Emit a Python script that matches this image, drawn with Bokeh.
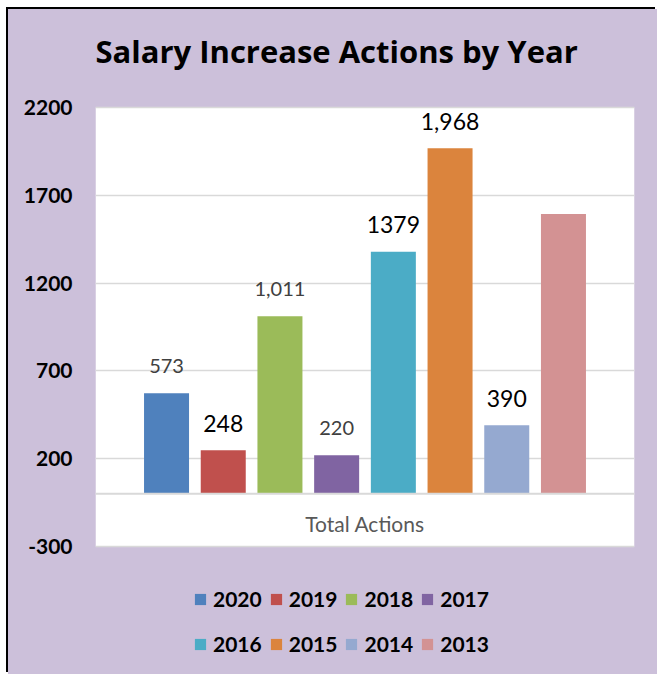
from bokeh.plotting import figure
from bokeh.models import (ColumnDataSource, FactorRange, Range1d, FixedTicker, Legend, LegendItem,
                          PrintfTickFormatter, BoxAnnotation, Span, Label)
from bokeh.transform import dodge
from bokeh.core.properties import value
from bokeh.embed import file_html
from bokeh.resources import INLINE

# ---- data ----
category = "Total Actions"
years = ["2020", "2019", "2018", "2017", "2016", "2015", "2014", "2013"]
counts = [573, 248, 1011, 220, 1379, 1968, 390, 1594]
count_labels = ["573", "248", "1,011", "220", "1379", "1,968", "390", ""]
y_ticks = [-300, 200, 700, 1200, 1700, 2200]
title_text = "Salary Increase Actions by Year"

# ---- styles / layout ----
bar_colors = ["#4F81BD", "#C0504D", "#9BBB59", "#8064A2", "#4BACC6", "#DB843D", "#95A9D0", "#D39293"]
label_colors = ["#404040", "#000000", "#404040", "#404040", "#000000", "#000000", "#000000", "#000000"]
label_sizes = ["20px", "23px", "20px", "20px", "23px", "23px", "23px", "23px"]
FONT = "Lato"
BG = "#CCC0DA"
GRID = "#D9D9D9"

W, H = 649, 665
plot_top_px, plot_bot_px = 98, 537   # pixel rows (from top of frame) of the top and bottom ticks
upx = (y_ticks[-1] - y_ticks[0]) / (plot_bot_px - plot_top_px)
y_end = y_ticks[-1] + plot_top_px * upx
y_start = y_ticks[0] - (H - plot_bot_px) * upx

p = figure(width=W, height=H,
           x_range=FactorRange(factors=[category]),
           y_range=Range1d(y_start, y_end),
           x_axis_location=None,
           output_backend="svg", toolbar_location=None,
           min_border_left=87, min_border_right=23,
           min_border_top=0, min_border_bottom=0)
p.styles = {"margin-left": "8px", "margin-top": "9px", "background-color": BG,
            "box-shadow": "-2px -2px 0 0 black"}
p.background_fill_color = None
p.border_fill_color = None
p.outline_line_color = None

# white plot area between the outer ticks
p.add_layout(BoxAnnotation(bottom=y_ticks[0], top=y_ticks[-1], fill_color="white", fill_alpha=1,
                           line_color=None, level="image"))
# category axis line at zero
p.add_layout(Span(location=0, dimension="width", line_color=GRID, line_width=2))

step = 0.1052
bar_w = 0.0835
renderers = []
for i, yr in enumerate(years):
    src = ColumnDataSource(dict(x=[category], top=[counts[i]], label=[count_labels[i]]))
    off = (i - (len(years) - 1) / 2) * step
    r = p.vbar(x=dodge("x", off, range=p.x_range), top="top", bottom=0, width=bar_w,
               fill_color=bar_colors[i], line_color=None, source=src)
    renderers.append(r)
    p.text(x=dodge("x", off, range=p.x_range), y="top", text="label", source=src,
           text_align="center", text_baseline="alphabetic", y_offset=-27,
           text_font=value(FONT), text_font_size=label_sizes[i], text_color=label_colors[i])

# category label under the zero line
cat_src = ColumnDataSource(dict(x=[category], y=[y_ticks[0] / 2], t=[category]))
p.text(x="x", y="y", text="t", source=cat_src, text_align="center", text_baseline="alphabetic",
       y_offset=3, text_font=value(FONT), text_font_size="21px", text_color="#595959")

# y axis
p.yaxis.ticker = FixedTicker(ticks=y_ticks)
p.yaxis.formatter = PrintfTickFormatter(format="%d")
p.yaxis.major_tick_line_color = None
p.yaxis.minor_tick_line_color = None
p.yaxis.major_tick_out = 0
p.yaxis.major_tick_in = 0
p.yaxis.axis_line_color = None
p.yaxis.major_label_standoff = 23
p.yaxis.major_label_text_font = FONT
p.yaxis.major_label_text_font_size = "21px"
p.yaxis.major_label_text_font_style = "bold"
p.yaxis.major_label_text_color = "black"
p.ygrid.grid_line_color = GRID
p.ygrid.grid_line_width = 1.5
p.xgrid.grid_line_color = None

# title
p.add_layout(Label(x=0, y=H - 41, x_units="screen", y_units="screen", text=title_text,
                   text_align="left", text_baseline="alphabetic",
                   text_font="Open Sans", text_font_size="31px", text_font_style="bold",
                   text_color="black"))

# legend: two rows of four
for a, b, vy in [(0, 4, 63), (4, 8, 18)]:
    lg = Legend(items=[LegendItem(label=years[k], renderers=[renderers[k]]) for k in range(a, b)],
                orientation="horizontal", location=(98, vy),
                glyph_width=14, glyph_height=14, label_standoff=6, spacing=7,
                padding=0, margin=0, border_line_color=None, background_fill_alpha=0,
                label_text_font=FONT, label_text_font_size="21px", label_text_font_style="bold",
                label_text_color="black", label_text_baseline="middle")
    p.add_layout(lg)

open("out.html", "w").write(file_html(p, INLINE))
